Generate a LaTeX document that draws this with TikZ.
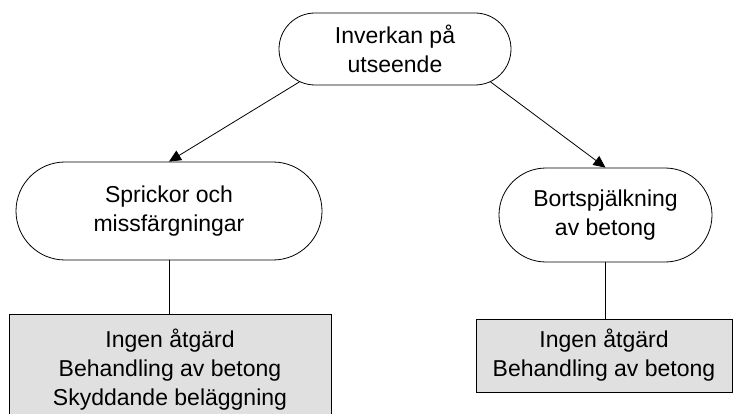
\documentclass[tikz,border=0pt]{standalone}
\usepackage{fontspec}
\setmainfont{Liberation Sans}
\usetikzlibrary{shapes.misc,arrows.meta}
\definecolor{boxgray}{RGB}{224,224,224}
\begin{document}
\begin{tikzpicture}[x=1pt,y=-1pt,
  every node/.style={font=\fontsize{23}{29}\selectfont, align=center, line width=0.8pt},
  pill/.style={draw, rounded rectangle, inner sep=0pt},
  actionbox/.style={draw, fill=boxgray, rectangle, inner sep=0pt},
  link/.style={line width=0.8pt},
  arrowlink/.style={line width=0.8pt, -{Triangle[length=12pt,width=11pt]}}]
\useasboundingbox (0,0) rectangle (733,414);

% topic and its two kinds of damage
\node[pill, minimum width=232pt, minimum height=72pt] (top) at (395,49) {Inverkan på\\utseende};
\node[pill, minimum width=306pt, minimum height=98pt] (crack) at (169,211) {Sprickor och\\missfärgningar};
\node[pill, minimum width=213pt, minimum height=94pt] (spall) at (605.5,215) {Bortspjälkning\\av betong};

% measures for each kind of damage
\node[actionbox, minimum width=322pt, minimum height=112pt] (crackact) at (170,370)
  {Ingen åtgärd\\Behandling av betong\\Skyddande beläggning};
\node[actionbox, minimum width=256pt, minimum height=73pt] (spallact) at (604,355.5)
  {Ingen åtgärd\\Behandling av betong};

% connectors
\draw[arrowlink] (top.199) -- (crack.north);
\draw[arrowlink] (top.341) -- (spall.north);
\draw[link] (crack.south) -- (crack.south |- crackact.north);
\draw[link] (spall.south) -- (spall.south |- spallact.north);
\end{tikzpicture}
\end{document}
